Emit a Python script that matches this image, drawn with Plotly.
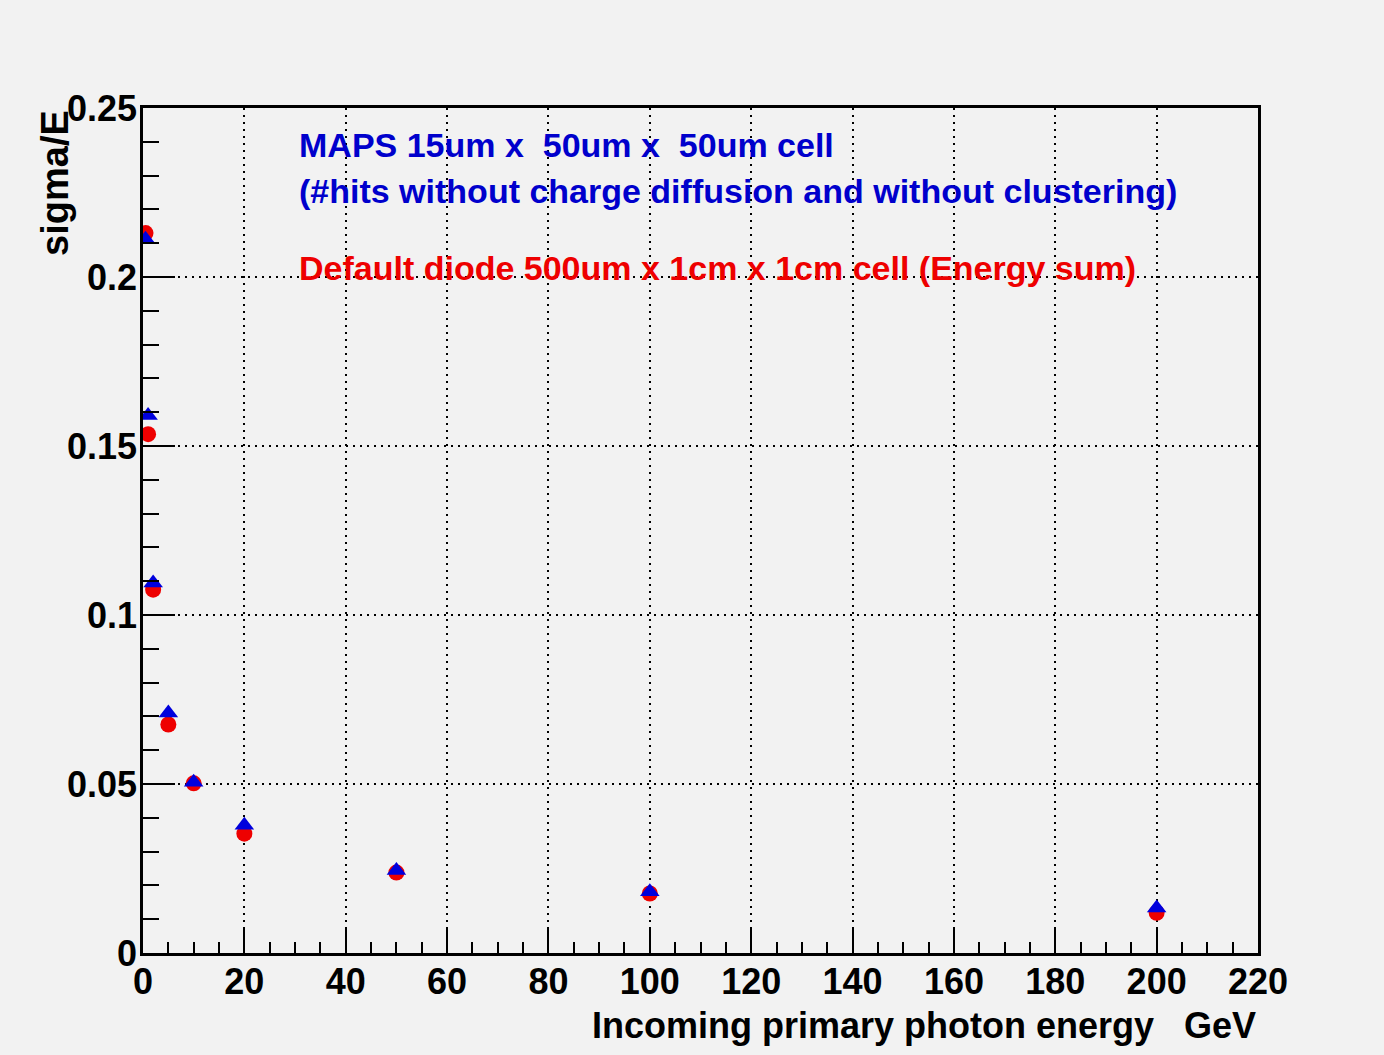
import plotly.graph_objects as go

# Photon energy points (GeV)
energy = [0.5, 1, 2, 5, 10, 20, 50, 100, 200]
# Relative energy resolution sigma/E
maps_res = [0.2112, 0.1590, 0.1095, 0.0710, 0.0505, 0.0378, 0.0244, 0.0181, 0.0133]
diode_res = [0.2130, 0.1535, 0.1075, 0.0676, 0.0502, 0.0353, 0.0238, 0.0176, 0.0119]

x_ticks = list(range(0, 221, 20))
y_ticks = [0, 0.05, 0.1, 0.15, 0.2, 0.25]
y_tick_text = ["0", "0.05", "0.1", "0.15", "0.2", "0.25"]

FONT = "Liberation Sans, Arial, Helvetica, sans-serif"
BG = "#f2f2f2"
NB = "\u00a0"

fig = go.Figure()
fig.add_trace(go.Scatter(
    x=energy, y=diode_res, mode="markers", name="diode",
    marker=dict(symbol="circle", size=16, color="#ee0000", line=dict(width=0)),
))
fig.add_trace(go.Scatter(
    x=energy, y=maps_res, mode="markers", name="MAPS",
    marker=dict(symbol="triangle-up", size=17, color="#0000dd", line=dict(width=0)),
))

axis_font = dict(family=FONT, size=36, color="black", weight="bold")

fig.update_xaxes(
    range=[0, 220], tickvals=x_ticks, ticks="inside", ticklen=24, tickwidth=2,
    tickcolor="black", showline=True, linecolor="black", linewidth=2.5, mirror=True,
    showgrid=True, gridcolor="black", gridwidth=1.5, griddash="2px,5px",
    zeroline=False, tickfont=axis_font, ticklabelstandoff=-5,
    minor=dict(dtick=5, ticks="inside", ticklen=11, tickwidth=2, tickcolor="black",
               showgrid=False),
)
fig.update_yaxes(
    range=[0, 0.25], tickvals=y_ticks, ticktext=y_tick_text, ticks="inside",
    ticklen=32, tickwidth=2, tickcolor="black", showline=True, linecolor="black",
    linewidth=2.5, mirror=True, showgrid=True, gridcolor="black", gridwidth=1.5,
    griddash="2px,5px", zeroline=False, tickfont=axis_font, ticklabelstandoff=-4,
    minor=dict(dtick=0.01, ticks="inside", ticklen=16, tickwidth=2, tickcolor="black",
               showgrid=False),
)

text_font = dict(family=FONT, size=34, weight="bold")
annotations = [
    dict(text=f"MAPS 15um x{NB} 50um x{NB} 50um cell", x=0.138, y=0.956,
         font=dict(color="#0000cc", **text_font)),
    dict(text="(#hits without charge diffusion and without clustering)", x=0.138, y=0.902,
         font=dict(color="#0000cc", **text_font)),
    dict(text="Default diode 500um x 1cm x 1cm cell (Energy sum)", x=0.138, y=0.811,
         font=dict(color="#ee0000", **text_font)),
]
for a in annotations:
    a.update(xref="paper", yref="paper", xanchor="left", yanchor="middle",
             showarrow=False)

annotations.append(dict(
    text=f"Incoming primary photon energy{NB}{NB}{NB}GeV", xref="paper", yref="paper",
    x=1.0, y=-0.086, xanchor="right", yanchor="middle", showarrow=False,
    font=dict(family=FONT, size=36, color="black", weight="bold"),
))
annotations.append(dict(
    text="sigma/E", xref="paper", yref="paper", x=-0.079, y=1.0,
    xanchor="center", yanchor="top", textangle=-90, showarrow=False,
    font=dict(family=FONT, size=38, color="black", weight="bold"),
))

fig.update_layout(
    width=1384, height=1055,
    margin=dict(l=143, r=126, t=108, b=102),
    paper_bgcolor=BG, plot_bgcolor=BG,
    showlegend=False, annotations=annotations,
)

fig.write_html("out.html")
